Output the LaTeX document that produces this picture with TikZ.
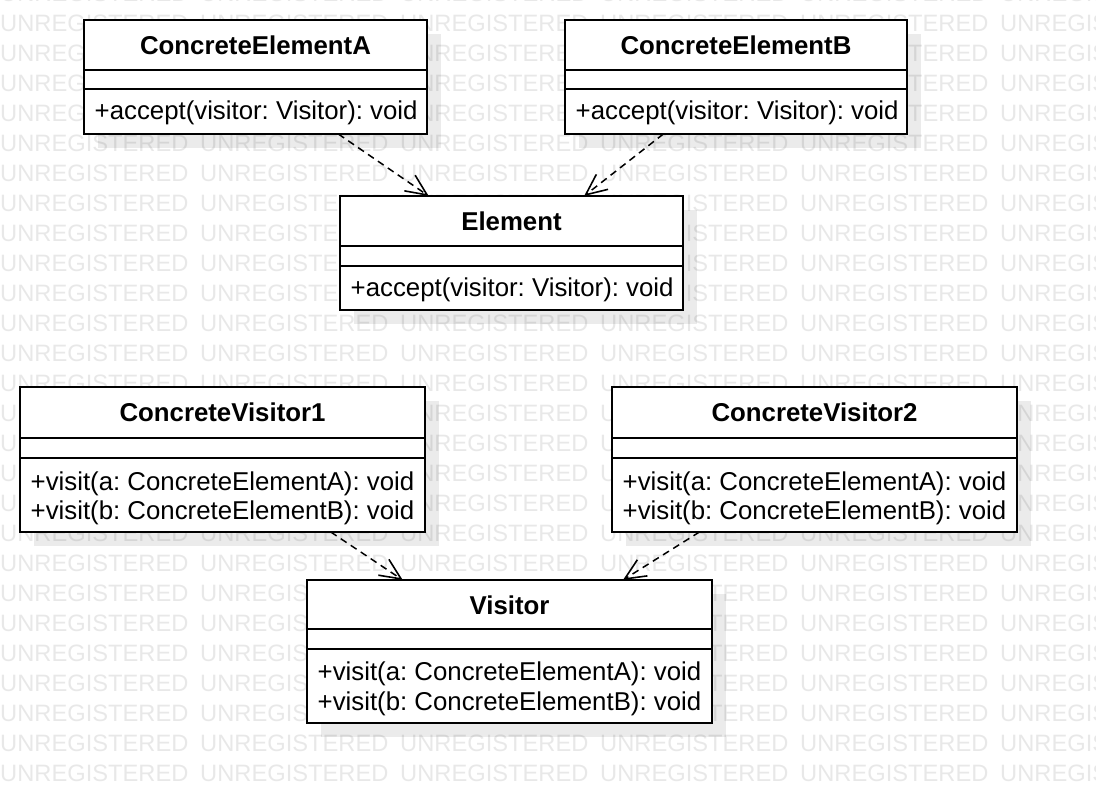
\documentclass[tikz,border=0pt]{standalone}
\usepackage{fontspec}
\setmainfont{Liberation Sans}
\usetikzlibrary{calc,arrows.meta}
\pgfdeclarelayer{bglayer}
\pgfdeclarelayer{shadowlayer}
\pgfdeclarelayer{wmlayer}
\pgfsetlayers{bglayer,shadowlayer,wmlayer,main}
\frenchspacing
\tikzset{
  classbox/.style={draw=black, line width=2pt, fill=white, inner sep=0pt, outer sep=0pt, anchor=north west},
  sepline/.style={line width=2pt},
  shadowfill/.style={fill=black!8, draw=none},
  classtitle/.style={font=\bfseries\fontsize{25.8}{30}\selectfont, anchor=base, inner sep=0pt},
  member/.style={font=\fontsize{25.8}{30}\selectfont, anchor=base west, inner sep=0pt},
  wm/.style={font=\fontsize{23.7}{28}\selectfont, anchor=base west, inner sep=0pt, text=black, text opacity=0.09},
  dep/.style={dash pattern=on 7pt off 5pt, line width=1.5pt,
    -{Straight Barb[length=21pt,width=19pt,line width=1.6pt]}}
}
\newcommand{\classshadow}[1]{%
  \begin{pgfonlayer}{shadowlayer}
    \fill[shadowfill] ($(#1.north west)+(14,14)$) rectangle ($(#1.south east)+(14,14)$);
  \end{pgfonlayer}}
\newcommand{\classseps}[3]{%
  \draw[sepline] ($(#1.north west)+(0,#2)$) -- ($(#1.north east)+(0,#2)$);
  \draw[sepline] ($(#1.north west)+(0,#3)$) -- ($(#1.north east)+(0,#3)$);}
\begin{document}
\begin{tikzpicture}[x=1pt,y=-1pt]
\useasboundingbox (0,0) rectangle (1096,804);
\begin{pgfonlayer}{bglayer}
\fill[white] (0,0) rectangle (1096,804);
\end{pgfonlayer}

% watermark
\begin{pgfonlayer}{wmlayer}
\foreach \k in {-1,...,25} {
  \foreach \j in {0,...,5} {
    \node[wm] (wm-\k-\j) at ({200*\j}, {31+30*\k}) {UNREGISTERED};
  }
}
\end{pgfonlayer}

% class boxes
\node[classbox, minimum width=343pt, minimum height=114pt] (ceA) at (84,20) {};
\node[classbox, minimum width=342pt, minimum height=114pt] (ceB) at (565,20) {};
\node[classbox, minimum width=343pt, minimum height=114pt] (elem) at (340,196) {};
\node[classbox, minimum width=405pt, minimum height=145pt] (cv1) at (20,387) {};
\node[classbox, minimum width=405pt, minimum height=145pt] (cv2) at (612,387) {};
\node[classbox, minimum width=405pt, minimum height=143pt] (vis) at (307,580) {};

\classshadow{ceA}
\classshadow{ceB}
\classshadow{elem}
\classshadow{cv1}
\classshadow{cv2}
\classshadow{vis}

\classseps{ceA}{50}{69}
\classseps{ceB}{50}{69}
\classseps{elem}{50}{70}
\classseps{cv1}{51}{71}
\classseps{cv2}{51}{71}
\classseps{vis}{49}{69}

% titles
\node[classtitle] (ceAt) at ($(ceA.north)+(0,34)$) {ConcreteElementA};
\node[classtitle] (ceBt) at ($(ceB.north)+(0,34)$) {ConcreteElementB};
\node[classtitle] (elemt) at ($(elem.north)+(0,34)$) {Element};
\node[classtitle] (cv1t) at ($(cv1.north)+(0,34)$) {ConcreteVisitor1};
\node[classtitle] (cv2t) at ($(cv2.north)+(0,34)$) {ConcreteVisitor2};
\node[classtitle] (vist) at ($(vis.north)+(0,34)$) {Visitor};

% members
\node[member] (ceAm) at ($(ceA.north west)+(10.5,99)$) {+accept(visitor: Visitor): void};
\node[member] (ceBm) at ($(ceB.north west)+(10.5,99)$) {+accept(visitor: Visitor): void};
\node[member] (elemm) at ($(elem.north west)+(10.5,100)$) {+accept(visitor: Visitor): void};
\node[member] (cv1a) at ($(cv1.north west)+(10.5,103)$) {+visit(a: ConcreteElementA): void};
\node[member] (cv1b) at ($(cv1.north west)+(10.5,132)$) {+visit(b: ConcreteElementB): void};
\node[member] (cv2a) at ($(cv2.north west)+(10.5,103)$) {+visit(a: ConcreteElementA): void};
\node[member] (cv2b) at ($(cv2.north west)+(10.5,132)$) {+visit(b: ConcreteElementB): void};
\node[member] (visa) at ($(vis.north west)+(10.5,100)$) {+visit(a: ConcreteElementA): void};
\node[member] (visb) at ($(vis.north west)+(10.5,130)$) {+visit(b: ConcreteElementB): void};

% dependencies
\draw[dep] (ceA) -- (elem);
\draw[dep] (ceB) -- (elem);
\draw[dep] (cv1) -- (vis);
\draw[dep] (cv2) -- (vis);
\end{tikzpicture}
\end{document}
